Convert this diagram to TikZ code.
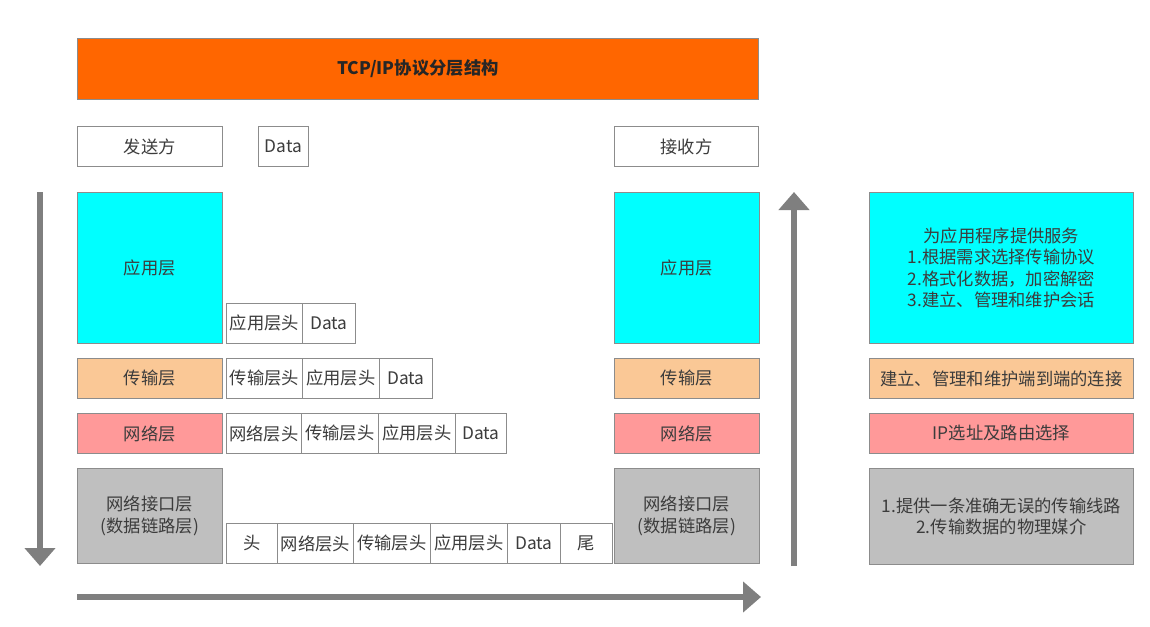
\documentclass[tikz,border=0pt]{standalone}
\usepackage{fontspec}
\setmainfont{Noto Sans CJK SC}
\usetikzlibrary{arrows.meta}

\definecolor{titleorange}{HTML}{FF6600}
\definecolor{appcyan}{HTML}{00FFFF}
\definecolor{transtan}{HTML}{FAC896}
\definecolor{netpink}{HTML}{FF9999}
\definecolor{linkgray}{HTML}{BFBFBF}
\definecolor{edgegray}{HTML}{8C8C8C}
\definecolor{inkgray}{HTML}{3C3C3C}
\definecolor{arrowgray}{HTML}{7F7F7F}

\tikzset{
  box/.style={draw=edgegray, line width=0.8pt, inner sep=0pt, anchor=north west,
    align=center, text=inkgray, font=\fontsize{17.3}{21.5}\selectfont},
  pkt/.style={box, fill=white, minimum height=40pt},
  flow/.style={draw=arrowgray, line width=6pt,
    -{Triangle[length=18pt,width=30pt]}, shorten >=0pt},
}

\begin{document}
\begin{tikzpicture}[x=1pt,y=-1pt]
\useasboundingbox (0,0) rectangle (1150,626);

% title bar
\node[box, fill=titleorange, minimum width=681pt, minimum height=61pt,
  font=\fontsize{17.3}{20}\selectfont\bfseries, text=black!85] (title) at (77,38) {TCP/IP协议分层结构};

% sender / data / receiver
\node[pkt, minimum width=145pt] (sender) at (77,126) {发送方};
\node[pkt, minimum width=50pt] (data0) at (258,126) {Data};
\node[pkt, minimum width=144pt] (receiver) at (614,126) {接收方};

% sender stack
\node[box, fill=appcyan, minimum width=145pt, minimum height=151pt] (sapp) at (77,192) {应用层};
\node[box, fill=transtan, minimum width=145pt, minimum height=40pt] (strans) at (77,358) {传输层};
\node[box, fill=netpink, minimum width=145pt, minimum height=40pt] (snet) at (77,413) {网络层};
\node[box, fill=linkgray, minimum width=145pt, minimum height=95pt] (slink) at (77,468) {网络接口层\\(数据链路层)};

% receiver stack
\node[box, fill=appcyan, minimum width=145pt, minimum height=151pt] (rapp) at (614,192) {应用层};
\node[box, fill=transtan, minimum width=145pt, minimum height=40pt] (rtrans) at (614,358) {传输层};
\node[box, fill=netpink, minimum width=145pt, minimum height=40pt] (rnet) at (614,413) {网络层};
\node[box, fill=linkgray, minimum width=145pt, minimum height=95pt] (rlink) at (614,468) {网络接口层\\(数据链路层)};

% layer duties
\node[box, fill=appcyan, minimum width=264pt, minimum height=151pt] (dapp) at (869,192)
  {为应用程序提供服务\\1.根据需求选择传输协议\\2.格式化数据，加密解密\\3.建立、管理和维护会话};
\node[box, fill=transtan, minimum width=264pt, minimum height=40pt] (dtrans) at (869,358) {建立、管理和维护端到端的连接};
\node[box, fill=netpink, minimum width=264pt, minimum height=40pt] (dnet) at (869,413) {IP选址及路由选择};
\node[box, fill=linkgray, minimum width=264pt, minimum height=96pt] (dlink) at (869,468)
  {1.提供一条准确无误的传输线路\\2.传输数据的物理媒介};

% application layer packet
\node[pkt, minimum width=76pt] (a1) at (226,303) {应用层头};
\node[pkt, minimum width=53pt] (a2) at (302,303) {Data};

% transport layer packet
\node[pkt, minimum width=76pt] (t1) at (226,358) {传输层头};
\node[pkt, minimum width=77pt] (t2) at (302,358) {应用层头};
\node[pkt, minimum width=53pt] (t3) at (379,358) {Data};

% network layer packet
\node[pkt, minimum width=75pt] (n1) at (226,413) {网络层头};
\node[pkt, minimum width=77pt] (n2) at (301,413) {传输层头};
\node[pkt, minimum width=77pt] (n3) at (378,413) {应用层头};
\node[pkt, minimum width=51pt] (n4) at (455,413) {Data};

% frame
\node[pkt, minimum width=51pt] (f1) at (226,523) {头};
\node[pkt, minimum width=76pt] (f2) at (277,523) {网络层头};
\node[pkt, minimum width=77pt] (f3) at (353,523) {传输层头};
\node[pkt, minimum width=77pt] (f4) at (430,523) {应用层头};
\node[pkt, minimum width=53pt] (f5) at (507,523) {Data};
\node[pkt, minimum width=52pt] (f6) at (560,523) {尾};

% flow arrows
\coordinate (downtop) at (40,192);
\coordinate (downend) at (40,566);
\coordinate (uptail) at (794,566);
\coordinate (uptop) at (794,192);
\coordinate (acrossstart) at (77,597);
\coordinate (acrossend) at (761,597);
\draw[flow] (downtop) -- (downend);
\draw[flow] (uptail) -- (uptop);
\draw[flow] (acrossstart) -- (acrossend);
\end{tikzpicture}
\end{document}
